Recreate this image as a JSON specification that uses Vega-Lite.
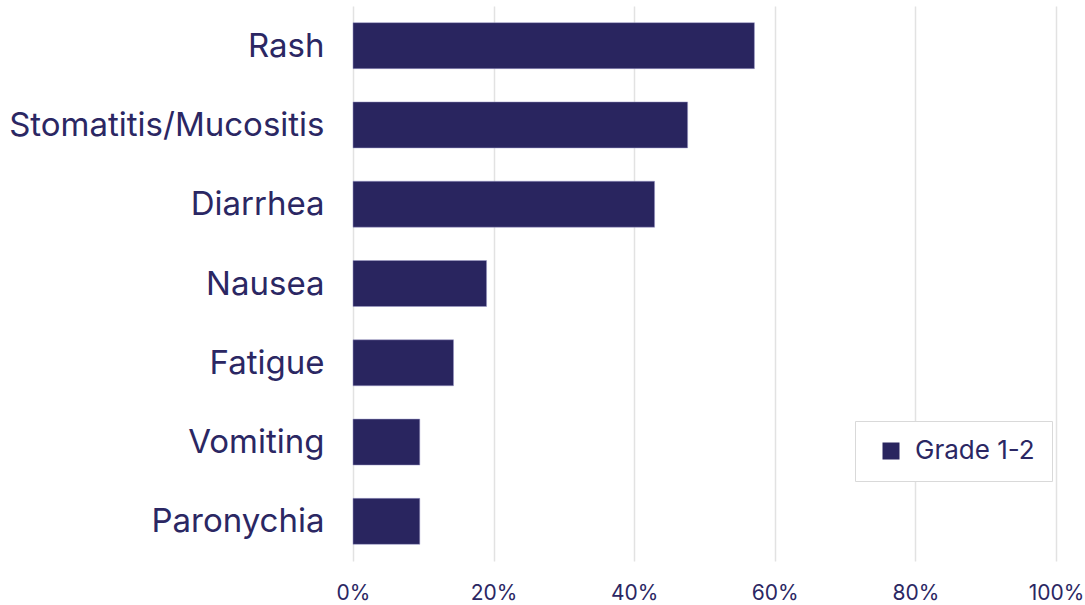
{
  "$schema": "https://vega.github.io/schema/vega-lite/v6.json",
  "width": 703,
  "height": 555,
  "padding": {"left": 353, "top": 6, "right": 29, "bottom": 44},
  "autosize": {"type": "none"},
  "background": "white",
  "config": {
    "view": {"stroke": null},
    "font": "Inter"
  },
  "data": {
    "values": [
      {"ae": "Rash", "pct": 0.571, "grade": "Grade 1-2"},
      {"ae": "Stomatitis/Mucositis", "pct": 0.476, "grade": "Grade 1-2"},
      {"ae": "Diarrhea", "pct": 0.429, "grade": "Grade 1-2"},
      {"ae": "Nausea", "pct": 0.19, "grade": "Grade 1-2"},
      {"ae": "Fatigue", "pct": 0.143, "grade": "Grade 1-2"},
      {"ae": "Vomiting", "pct": 0.095, "grade": "Grade 1-2"},
      {"ae": "Paronychia", "pct": 0.095, "grade": "Grade 1-2"}
    ]
  },
  "mark": {"type": "bar", "stroke": "#9c9ac8", "strokeWidth": 0.5},
  "encoding": {
    "y": {
      "field": "ae",
      "type": "nominal",
      "sort": null,
      "scale": {"paddingInner": 0.42, "paddingOuter": 0.21},
      "axis": {
        "title": null,
        "domain": false,
        "ticks": false,
        "grid": false,
        "labelPadding": 29,
        "labelFontSize": 33,
        "labelColor": "#2B2763",
        "labelFont": "Inter",
        "labelLimit": 400,
        "labelBaseline": "middle",
        "labelOffset": 1
      }
    },
    "x": {
      "field": "pct",
      "type": "quantitative",
      "scale": {"domain": [0, 1], "nice": false},
      "axis": {
        "title": null,
        "format": ".0%",
        "values": [0, 0.2, 0.4, 0.6, 0.8, 1],
        "domain": false,
        "ticks": false,
        "grid": true,
        "gridColor": "#E2E2E2",
        "gridWidth": 1.5,
        "labelFlush": false,
        "labelPadding": 21,
        "labelFontSize": 21,
        "labelColor": "#2B2763",
        "labelFont": "Inter"
      }
    },
    "color": {
      "field": "grade",
      "type": "nominal",
      "scale": {"range": ["#29255F"]},
      "legend": {
        "title": null,
        "orient": "none",
        "legendX": 502,
        "legendY": 415,
        "padding": 17,
        "symbolType": "square",
        "symbolSize": 289,
        "symbolOffset": 6,
        "symbolStrokeWidth": 0,
        "labelFontSize": 26,
        "labelColor": "#2B2763",
        "labelFont": "Inter",
        "labelOffset": 11,
        "strokeColor": "#D9D9D9",
        "fillColor": "white",
        "cornerRadius": 0
      }
    }
  }
}
